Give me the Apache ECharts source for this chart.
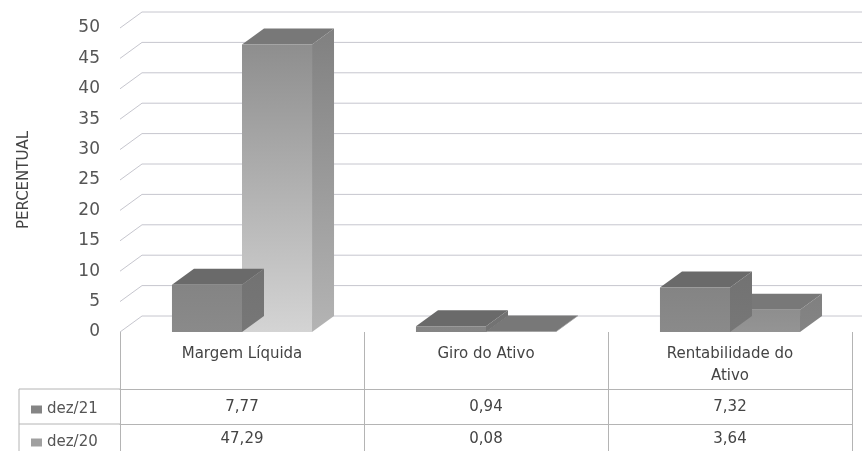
<!DOCTYPE html>
<html>
<head>
<meta charset="utf-8">
<script src="https://cdn.jsdelivr.net/npm/echarts@6/dist/echarts.min.js"></script>
<style>html,body{margin:0;padding:0;background:#fff;}#c{width:862px;height:451px;}</style>
</head>
<body>
<div id="c"></div>
<script>
const categories = ['Margem Líquida', 'Giro do Ativo', 'Rentabilidade do\nAtivo'];
const seriesNames = ['dez/21', 'dez/20'];
const dez21 = [7.77, 0.94, 7.32];
const dez20 = [47.29, 0.08, 3.64];
const yTicks = [0, 5, 10, 15, 20, 25, 30, 35, 40, 45, 50];

const DX = 22, DY = -16;
const FONT = 'DejaVu Sans';
const fmt = v => v.toFixed(2).replace('.', ',');

const palettes = [
  { front: [[0x84, 0x84, 0x84], [0xa8, 0xa8, 0xa8]], side: [[0x72, 0x72, 0x72], [0x90, 0x90, 0x90]], top: '#6a6a6a' },
  { front: [[0x8e, 0x8e, 0x8e], [0xd4, 0xd4, 0xd4]], side: [[0x80, 0x80, 0x80], [0xb4, 0xb4, 0xb4]], top: '#787878' }
];

function mix(a, b, t) {
  const c = a.map((v, i) => Math.round(v + (b[i] - v) * t));
  return 'rgb(' + c.join(',') + ')';
}
function grad(c, t) {
  return { type: 'linear', x: 0, y: 0, x2: 0, y2: 1, colorStops: [{ offset: 0, color: mix(c[0], c[1], 0) }, { offset: 1, color: mix(c[0], c[1], t) }] };
}

function boxRender(si) {
  const pal = palettes[si];
  return function (params, api) {
    const idx = api.value(0), v = api.value(1);
    const top = api.coord([idx, v]);
    const base = api.coord([idx, 0]);
    const band = api.size([1, 0])[0];
    const bw = band * 0.287;
    const x0 = si === 0 ? top[0] - bw : top[0];
    const x1 = x0 + bw;
    const yt = top[1], yb = base[1];
    const t = Math.min(1, (yb - yt) / params.coordSys.height * 1.1);
    return {
      type: 'group',
      children: [
        { type: 'polygon', shape: { points: [[x1, yt], [x1 + DX, yt + DY], [x1 + DX, yb + DY], [x1, yb]] }, style: { fill: grad(pal.side, t) } },
        { type: 'polygon', shape: { points: [[x0, yt], [x0 + DX, yt + DY], [x1 + DX, yt + DY], [x1, yt]] }, style: { fill: pal.top } },
        { type: 'rect', shape: { x: x0, y: yt, width: bw, height: Math.max(yb - yt, 0.5) }, style: { fill: grad(pal.front, t) } }
      ]
    };
  };
}

const chart = echarts.init(document.getElementById('c'), null, { renderer: 'canvas' });
const lineColor = '#b4b4b4';
const legendBase = {
  orient: 'horizontal', left: 26, itemWidth: 11, itemHeight: 8, icon: 'rect', selectedMode: false,
  textStyle: { fontFamily: FONT, fontSize: 15, color: '#555' }
};

chart.setOption({
  backgroundColor: '#ffffff',
  animation: false,
  textStyle: { fontFamily: FONT },
  legend: [
    Object.assign({}, legendBase, { data: [seriesNames[0]], top: 397 }),
    Object.assign({}, legendBase, { data: [seriesNames[1]], top: 430 })
  ],
  grid: { left: 120, right: 10, top: 28, height: 304 },
  xAxis: [
    {
      type: 'category', data: categories, position: 'bottom',
      axisLine: { show: false },
      axisTick: { show: true, interval: 0, length: 125, lineStyle: { color: lineColor } },
      axisLabel: { interval: 0, margin: 11, fontSize: 15, color: '#444', lineHeight: 22, fontFamily: FONT }
    },
    {
      type: 'category', data: categories, position: 'bottom', offset: 57,
      axisLine: { show: true, lineStyle: { color: lineColor } },
      axisTick: { show: false },
      axisLabel: { interval: 0, margin: 11, fontSize: 15, color: '#444', fontFamily: FONT, formatter: (val, i) => fmt(dez21[i]) }
    },
    {
      type: 'category', data: categories, position: 'bottom', offset: 92,
      axisLine: { show: true, lineStyle: { color: lineColor } },
      axisTick: { show: false },
      axisLabel: { interval: 0, margin: 8, fontSize: 15, color: '#444', fontFamily: FONT, formatter: (val, i) => fmt(dez20[i]) }
    }
  ],
  yAxis: {
    type: 'value', min: 0, max: 50, interval: 5,
    axisLine: { show: false }, axisTick: { show: false }, splitLine: { show: false },
    axisLabel: { fontSize: 17, color: '#555', margin: 20, fontFamily: FONT },
    name: 'PERCENTUAL', nameLocation: 'middle', nameGap: 88, nameRotate: 90,
    nameTextStyle: { fontSize: 15, color: '#444', fontFamily: FONT }
  },
  graphic: [
    { type: 'line', shape: { x1: 19, y1: 389, x2: 120, y2: 389 }, style: { stroke: lineColor, lineWidth: 1 } },
    { type: 'line', shape: { x1: 19, y1: 424, x2: 120, y2: 424 }, style: { stroke: lineColor, lineWidth: 1 } },
    { type: 'line', shape: { x1: 19, y1: 389, x2: 19, y2: 451 }, style: { stroke: lineColor, lineWidth: 1 } }
  ],
  series: [
    {
      type: 'custom', name: 'grid', silent: true, z: 1, xAxisIndex: 0,
      data: yTicks.map(t => [0, t]),
      renderItem: function (params, api) {
        const y = api.coord([0, api.value(1)])[1];
        const x0 = params.coordSys.x;
        return {
          type: 'polyline',
          shape: { points: [[x0, y], [x0 + DX, y + DY], [api.getWidth(), y + DY]] },
          style: { stroke: '#c6c6ce', lineWidth: 1, fill: null }
        };
      }
    },
    {
      type: 'custom', name: seriesNames[1], z: 3, xAxisIndex: 0,
      itemStyle: { color: '#a0a0a0' },
      data: dez20.map((v, i) => [i, v]),
      renderItem: boxRender(1)
    },
    {
      type: 'custom', name: seriesNames[0], z: 4, xAxisIndex: 0,
      itemStyle: { color: '#858585' },
      data: dez21.map((v, i) => [i, v]),
      renderItem: boxRender(0)
    }
  ]
});
</script>
</body>
</html>
